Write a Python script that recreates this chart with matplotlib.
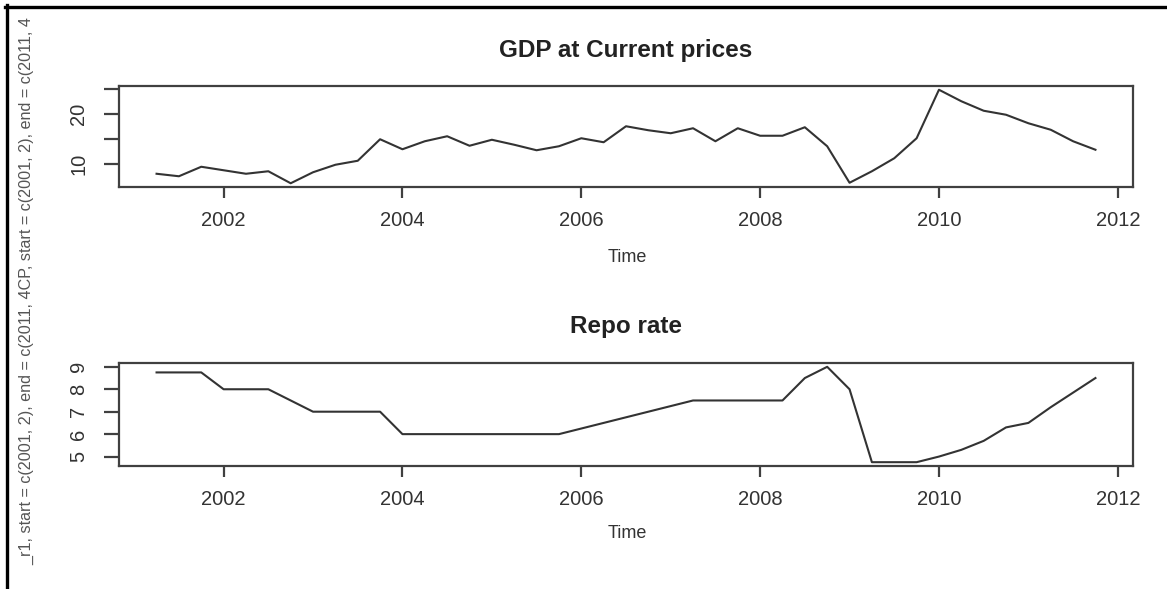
"""
GDP at current prices and repo rate, quarterly 2001Q2 - 2011Q4
"""

import numpy as np
import matplotlib
matplotlib.use('Agg')
import matplotlib.pyplot as plt
from matplotlib.lines import Line2D

###############################################################################
# Data (quarterly, start = c(2001, 2))
start_year = 2001
start_qtr = 2

gdp_cp = [8.0, 7.5, 9.4,
          8.7, 8.0, 8.5, 6.1,
          8.3, 9.8, 10.6, 14.9,
          12.9, 14.5, 15.5, 13.6,
          14.8, 13.8, 12.7, 13.5,
          15.1, 14.3, 17.5, 16.7,
          16.1, 17.1, 14.5, 17.1,
          15.6, 15.6, 17.3, 13.5,
          6.2, 8.5, 11.1, 15.1,
          24.8, 22.5, 20.6, 19.8,
          18.1, 16.8, 14.5, 12.8]

repo_r1 = [8.75, 8.75, 8.75,
           8.0, 8.0, 8.0, 7.5,
           7.0, 7.0, 7.0, 7.0,
           6.0, 6.0, 6.0, 6.0,
           6.0, 6.0, 6.0, 6.0,
           6.25, 6.5, 6.75, 7.0,
           7.25, 7.5, 7.5, 7.5,
           7.5, 7.5, 8.5, 9.0,
           8.0, 4.75, 4.75, 4.75,
           5.0, 5.3, 5.7, 6.3,
           6.5, 7.2, 7.85, 8.5]

year_ticks = [2002, 2004, 2006, 2008, 2010, 2012]
gdp_ticks = [10, 15, 20, 25]
gdp_ticklabels = ['10', '', '20', '']
repo_ticks = [5, 6, 7, 8, 9]

ylab_text = ('_r1, start = c(2001, 2), end = c(2011, 4'
             'CP, start = c(2001, 2), end = c(2011, 4')

###############################################################################
# Time index like R's ts()
n = len(gdp_cp)
t = start_year + (start_qtr - 1) / 4 + np.arange(n) / 4

plt.rcParams['font.family'] = ['Liberation Sans', 'DejaVu Sans']

W, H = 1167, 589
fig = plt.figure(figsize=(W / 100, H / 100), dpi=100)
fig.patch.set_facecolor('white')

line_col = '#333333'
axis_col = '#404040'
text_col = '#333333'


def px_axes(left, top, right, bottom):
    return fig.add_axes([left / W, 1 - bottom / H, (right - left) / W,
                         (bottom - top) / H])


def panel(ax, y, title, yticks, yticklabels, title_y):
    ax.plot(t, y, color=line_col, lw=1.5)
    ax.margins(x=0.04, y=0.04)
    for s in ax.spines.values():
        s.set_color(axis_col)
        s.set_linewidth(1.6)
    ax.set_xticks(year_ticks)
    ax.set_xticklabels([str(v) for v in year_ticks])
    ax.set_yticks(yticks)
    ax.set_yticklabels(yticklabels, rotation=90, va='center')
    ax.tick_params(axis='x', length=8, width=1.6, color=axis_col,
                   labelsize=14.5, labelcolor=text_col, pad=9)
    ax.tick_params(axis='y', length=11, width=1.6, color=axis_col,
                   labelsize=14.5, labelcolor=text_col, pad=11)
    fig.text(626 / W, 1 - title_y / H, title, ha='center', va='center',
             fontsize=17.5, fontweight='bold', color='#222222')


ax1 = px_axes(119, 86, 1133, 187)
panel(ax1, gdp_cp, 'GDP at Current prices', gdp_ticks, gdp_ticklabels, 50)
fig.text(627 / W, 1 - 257 / H, 'Time', ha='center', va='center',
         fontsize=13, color=text_col)

ax2 = px_axes(119, 363, 1133, 466)
panel(ax2, repo_r1, 'Repo rate', repo_ticks, [str(v) for v in repo_ticks], 327)
fig.text(627 / W, 1 - 533 / H, 'Time', ha='center', va='center',
         fontsize=13, color=text_col)

# y label running up the left edge
fig.text(27 / W, 1 - 565 / H, ylab_text, rotation=90, ha='center',
         va='bottom', fontsize=11.6, color='#555555')

# outer frame (top and left only)
fig.add_artist(Line2D([5 / W, 1], [1 - 7 / H, 1 - 7 / H], color='black',
                      lw=2.4, transform=fig.transFigure))
fig.add_artist(Line2D([7 / W, 7 / W], [0, 1 - 5 / H], color='black',
                      lw=2.4, transform=fig.transFigure))

fig.savefig('out.png', dpi=100, facecolor='white')
